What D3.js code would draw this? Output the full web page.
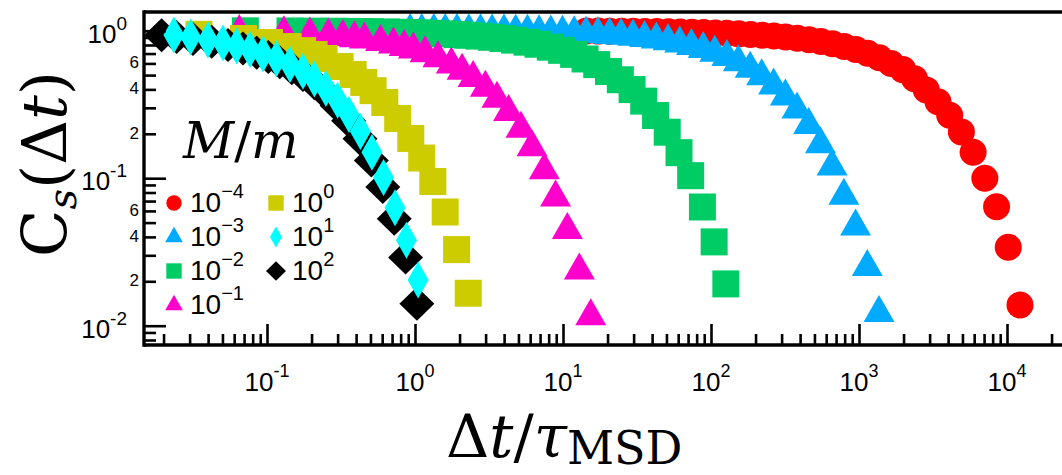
<!DOCTYPE html>
<html><head><meta charset="utf-8">
<script src="https://cdn.jsdelivr.net/npm/d3@7"></script>
<style>body{margin:0;background:#fff;} svg{display:block;}</style>
</head><body>
<svg id="chart" width="1062" height="475"></svg>
<script>
// Self-intermediate correlation C_s(Δt) versus Δt/τ_MSD for several mass ratios M/m

const ratioLabels = ["\u22124", "\u22123", "\u22122", "\u22121", "0", "1", "2"]; // exponents of M/m

const xRed = [14.4, 17.3, 20.7, 24.9, 29.9, 35.8, 43.0, 51.6, 61.9, 74.3, 89.2, 107, 128, 154, 185, 222, 266, 319, 383, 460, 552, 662, 794, 953, 1144, 1373, 1647, 1977, 2372, 2847, 3416, 4099, 4919, 5903, 7083, 8500, 10200, 12240];
const yRed = [0.995, 0.994, 0.993, 0.992, 0.990, 0.988, 0.986, 0.983, 0.980, 0.976, 0.972, 0.966, 0.960, 0.952, 0.943, 0.933, 0.921, 0.906, 0.889, 0.868, 0.845, 0.815, 0.782, 0.745, 0.703, 0.655, 0.600, 0.545, 0.472, 0.397, 0.330, 0.267, 0.206, 0.150, 0.100, 0.064, 0.034, 0.0138];

const xBlue = [0.927, 1.11, 1.34, 1.60, 1.92, 2.31, 2.77, 3.32, 3.99, 4.79, 5.75, 6.89, 8.27, 9.93, 11.9, 14.3, 17.2, 20.6, 24.7, 29.7, 35.6, 42.7, 51.3, 61.5, 73.8, 88.6, 106, 128, 153, 184, 220, 265, 318, 381, 457, 549, 658, 790, 948, 1138, 1365];
const yBlue = [0.997, 0.996, 0.996, 0.995, 0.994, 0.993, 0.991, 0.989, 0.987, 0.985, 0.982, 0.978, 0.974, 0.968, 0.962, 0.955, 0.946, 0.936, 0.924, 0.909, 0.891, 0.871, 0.847, 0.820, 0.788, 0.751, 0.710, 0.662, 0.610, 0.552, 0.492, 0.425, 0.358, 0.292, 0.229, 0.170, 0.120, 0.076, 0.047, 0.025, 0.0122];

const xGreen = [0.0714, 0.143, 0.214, 0.286, 0.357, 0.428, 0.500, 0.643, 0.785, 0.928, 1.07, 1.29, 1.57, 1.93, 2.28, 2.71, 3.28, 3.93, 4.71, 5.71, 6.78, 8.21, 9.78, 11.8, 14.1, 16.9, 20.3, 24.4, 29.3, 35.1, 42.2, 50.6, 60.8, 72.9, 87.5, 105, 126];
const yGreen = [0.998, 0.996, 0.993, 0.991, 0.989, 0.987, 0.984, 0.980, 0.976, 0.971, 0.967, 0.960, 0.952, 0.941, 0.931, 0.919, 0.902, 0.884, 0.863, 0.836, 0.809, 0.773, 0.736, 0.691, 0.643, 0.589, 0.529, 0.465, 0.399, 0.333, 0.266, 0.205, 0.149, 0.104, 0.0638, 0.037, 0.0192];

const xMagenta = [0.065, 0.13, 0.195, 0.26, 0.325, 0.39, 0.455, 0.585, 0.715, 0.845, 0.975, 1.17, 1.43, 1.76, 2.08, 2.47, 2.99, 3.58, 4.29, 5.20, 6.18, 7.48, 8.91, 10.7, 12.9, 15.4];
const yMagenta = [0.981, 0.962, 0.943, 0.925, 0.907, 0.890, 0.872, 0.839, 0.807, 0.776, 0.746, 0.704, 0.651, 0.590, 0.536, 0.477, 0.410, 0.346, 0.281, 0.216, 0.162, 0.113, 0.074, 0.0445, 0.0237, 0.0116];

const xYellow = [0.0347, 0.0694, 0.104, 0.139, 0.174, 0.208, 0.243, 0.312, 0.382, 0.451, 0.521, 0.625, 0.764, 0.937, 1.11, 1.32, 1.60, 1.91, 2.29];
const yYellow = [0.945, 0.886, 0.832, 0.781, 0.733, 0.690, 0.648, 0.572, 0.505, 0.446, 0.392, 0.326, 0.254, 0.186, 0.137, 0.095, 0.059, 0.0328, 0.0166];

const xCyan = [0.0235, 0.0305, 0.0399, 0.0504, 0.0624, 0.0768, 0.094, 0.116, 0.143, 0.175, 0.209, 0.250, 0.300, 0.358, 0.428, 0.512, 0.613, 0.733, 0.876, 1.05];
const yCyan = [0.935, 0.905, 0.866, 0.826, 0.787, 0.745, 0.695, 0.645, 0.590, 0.530, 0.470, 0.405, 0.337, 0.270, 0.207, 0.150, 0.101, 0.063, 0.038, 0.0204];

const xBlack = [0.0194, 0.0245, 0.0316, 0.0423, 0.0545, 0.0688, 0.0852, 0.102, 0.122, 0.147, 0.175, 0.209, 0.250, 0.298, 0.356, 0.425, 0.507, 0.606, 0.724, 0.864, 1.03];
const yBlack = [0.93, 0.905, 0.88, 0.84, 0.80, 0.756, 0.71, 0.662, 0.61, 0.556, 0.50, 0.44, 0.375, 0.31, 0.245, 0.185, 0.132, 0.087, 0.053, 0.029, 0.0141];

const xMajorTicks = [0.1, 1, 10, 100, 1000, 10000];
const xTickExponents = ["-1", "0", "1", "2", "3", "4"];
const yMajorTicks = [0.01, 0.1, 1];
const yTickExponents = ["-2", "-1", "0"];
const yMinorLabelled = [0.02, 0.04, 0.06, 0.2, 0.4, 0.6];

// series styling, in drawing order (later ones sit on top)
const series = [
  {key: 0, xs: xRed,     ys: yRed,     color: "#ff0000", shape: "circle"},
  {key: 1, xs: xBlue,    ys: yBlue,    color: "#00aaff", shape: "triangle"},
  {key: 2, xs: xGreen,   ys: yGreen,   color: "#00cc66", shape: "square"},
  {key: 3, xs: xMagenta, ys: yMagenta, color: "#ff00cc", shape: "triangle"},
  {key: 4, xs: xYellow,  ys: yYellow,  color: "#cccc00", shape: "square"},
  {key: 6, xs: xBlack,   ys: yBlack,   color: "#000000", shape: "diamond"},
  {key: 5, xs: xCyan,    ys: yCyan,    color: "#00ffff", shape: "thinDiamond"}
];

const W = 1062, H = 475;
const plot = {left: 144, right: 1064, top: 12, bottom: 345};
const x = d3.scaleLog().domain([0.1, 1e4]).range([267, 1007]);
const y = d3.scaleLog().domain([0.01, 1]).range([325.7, 30.7]);

function shapePath(shape, k) {
  // k scales the marker (1 = plot markers, smaller for the legend)
  switch (shape) {
    case "circle": {
      const r = 13.5 * k;
      return `M${-r},0A${r},${r} 0 1,0 ${r},0A${r},${r} 0 1,0 ${-r},0Z`;
    }
    case "triangle": {
      const hw = 15.5 * k, up = 18 * k, dn = 9 * k;
      return `M0,${-up}L${hw},${dn}L${-hw},${dn}Z`;
    }
    case "square": {
      const h = 13.5 * k;
      return `M${-h},${-h}H${h}V${h}H${-h}Z`;
    }
    case "diamond": {
      const hw = 17.5 * k, hh = 17 * k;
      return `M0,${-hh}L${hw},0L0,${hh}L${-hw},0Z`;
    }
    case "thinDiamond": {
      const hw = 10.5 * k, hh = 18.5 * k;
      return `M0,${-hh}L${hw},0L0,${hh}L${-hw},0Z`;
    }
  }
}

const svg = d3.select("#chart");
svg.append("rect").attr("width", W).attr("height", H).attr("fill", "#fff");

svg.append("defs").append("clipPath").attr("id", "plotClip")
  .append("rect").attr("x", plot.left).attr("y", plot.top)
  .attr("width", plot.right - plot.left).attr("height", plot.bottom - plot.top);

// markers
const marks = svg.append("g").attr("clip-path", "url(#plotClip)");
series.forEach(s => {
  const pts = s.xs.map((v, i) => [v, s.ys[i]]);
  marks.append("g").selectAll("path").data(pts).join("path")
    .attr("d", shapePath(s.shape, 1))
    .attr("transform", d => `translate(${x(d[0])},${y(d[1])})`)
    .attr("fill", s.color);
});

// minor tick values
const xMinor = [];
for (let e = -2; e <= 4; e++) for (let m = 2; m <= 9; m++) {
  const v = m * Math.pow(10, e);
  if (x(v) > plot.left + 2 && x(v) < W) xMinor.push(v);
}
const yMinor = [];
for (let e = -3; e <= 0; e++) for (let m = 2; m <= 9; m++) {
  const v = m * Math.pow(10, e);
  if (y(v) > plot.top + 2 && y(v) < plot.bottom - 2) yMinor.push(v);
}

const axisStyle = g => {
  g.select(".domain").remove();
  g.selectAll(".tick line").attr("stroke", "#000").attr("stroke-width", 2.6);
  g.selectAll(".tick text").remove();
};

svg.append("g").attr("transform", `translate(0,${plot.bottom})`)
  .call(d3.axisBottom(x).tickValues(xMajorTicks).tickSize(-21).tickFormat(""))
  .call(axisStyle);
svg.append("g").attr("transform", `translate(0,${plot.bottom})`)
  .call(d3.axisBottom(x).tickValues(xMinor).tickSize(-11).tickFormat(""))
  .call(axisStyle);
svg.append("g").attr("transform", `translate(${plot.left},0)`)
  .call(d3.axisLeft(y).tickValues(yMajorTicks).tickSize(-22).tickFormat(""))
  .call(axisStyle);
svg.append("g").attr("transform", `translate(${plot.left},0)`)
  .call(d3.axisLeft(y).tickValues(yMinor).tickSize(-12).tickFormat(""))
  .call(axisStyle);

// frame
const frame = svg.append("g").attr("stroke", "#000").attr("stroke-width", 3.4).attr("fill", "none");
frame.append("line").attr("x1", plot.left).attr("x2", W).attr("y1", plot.bottom).attr("y2", plot.bottom);
frame.append("line").attr("x1", plot.left).attr("x2", plot.left).attr("y1", plot.top - 1.7).attr("y2", plot.bottom + 1.7);
frame.append("line").attr("x1", plot.left).attr("x2", W).attr("y1", plot.top).attr("y2", plot.top);

const sans = "'Liberation Sans', Arial, Helvetica, sans-serif";
const serif = "'DejaVu Serif', 'Liberation Serif', serif";

// y tick labels
yMajorTicks.forEach((v, i) => {
  const t = svg.append("text").attr("x", 127).attr("y", y(v) + 12)
    .attr("text-anchor", "end").attr("font-family", sans).attr("font-size", 26).attr("fill", "#000");
  t.append("tspan").text("10");
  t.append("tspan").attr("dy", -13).attr("font-size", 19).text(yTickExponents[i]);
});
yMinorLabelled.forEach(v => {
  svg.append("text").attr("x", 139).attr("y", y(v) + 5)
    .attr("text-anchor", "end").attr("font-family", sans).attr("font-size", 17).attr("fill", "#000")
    .text(String(Math.round(v / Math.pow(10, Math.floor(Math.log10(v) + 1e-9)))));
});

// x tick labels
xMajorTicks.forEach((v, i) => {
  const t = svg.append("text").attr("x", x(v)).attr("y", 391)
    .attr("text-anchor", "middle").attr("font-family", sans).attr("font-size", 26).attr("fill", "#000");
  t.append("tspan").text("10");
  t.append("tspan").attr("dy", -14).attr("font-size", 18).text(xTickExponents[i]);
});

// axis titles
const yt = svg.append("text").attr("transform", "translate(66,164) rotate(-90)")
  .attr("text-anchor", "middle").attr("font-family", serif).attr("font-size", 62).attr("fill", "#000");
yt.append("tspan").text("C");
yt.append("tspan").attr("dy", 10).attr("font-size", 40).attr("font-style", "italic").text("s");
yt.append("tspan").attr("dy", -10).text("(\u0394");
yt.append("tspan").attr("font-style", "italic").text("t");
yt.append("tspan").text(")");

const xt = svg.append("text").attr("x", 446).attr("y", 457)
  .attr("text-anchor", "start").attr("font-family", serif).attr("font-size", 60).attr("fill", "#000");
xt.append("tspan").text("\u0394");
xt.append("tspan").attr("font-style", "italic").text("t");
xt.append("tspan").text("/");
xt.append("tspan").attr("font-style", "italic").text("\u03c4");
xt.append("tspan").attr("dy", 7).attr("font-size", 46).text("MSD");

// legend
const lg = svg.append("g");
const lt = lg.append("text").attr("x", 183).attr("y", 158).attr("font-family", serif)
  .attr("font-size", 50).attr("fill", "#000");
lt.append("tspan").attr("font-style", "italic").text("M");
lt.append("tspan").text("/");
lt.append("tspan").attr("font-style", "italic").text("m");

const legendItems = [
  {key: 0, col: 0, row: 0}, {key: 1, col: 0, row: 1}, {key: 2, col: 0, row: 2}, {key: 3, col: 0, row: 3},
  {key: 4, col: 1, row: 0}, {key: 5, col: 1, row: 1}, {key: 6, col: 1, row: 2}
];
const colX = [174, 276], rowY = [203, 237, 271, 305];
legendItems.forEach(it => {
  const s = series.find(d => d.key === it.key);
  const cx = colX[it.col], cy = rowY[it.row];
  lg.append("path").attr("d", shapePath(s.shape, 0.57))
    .attr("transform", `translate(${cx},${cy})`).attr("fill", s.color);
  const t = lg.append("text").attr("x", cx + 16).attr("y", cy + 9)
    .attr("font-family", sans).attr("font-size", 28).attr("fill", "#000");
  t.append("tspan").text("10");
  t.append("tspan").attr("dy", -14).attr("font-size", 20).text(ratioLabels[it.key]);
});
</script>
</body></html>
